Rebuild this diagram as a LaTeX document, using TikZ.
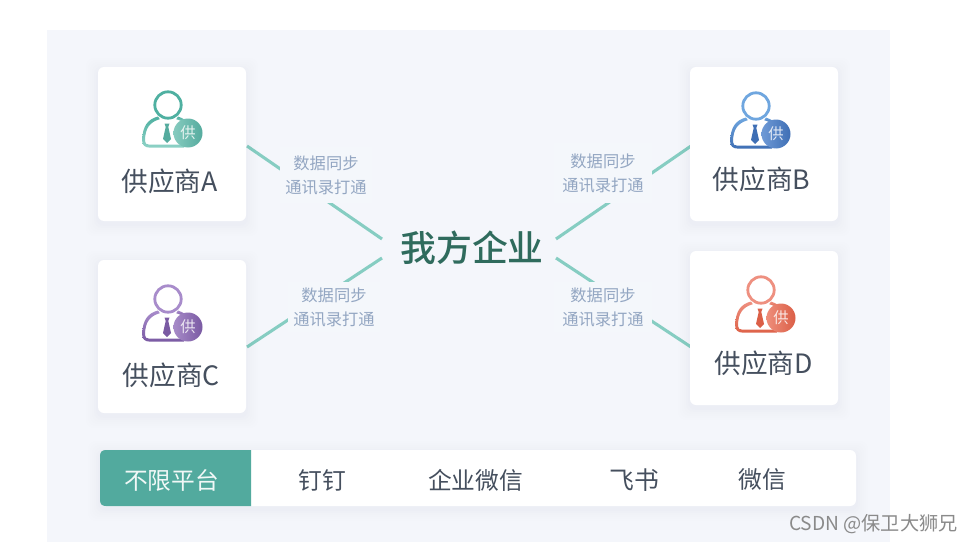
\documentclass[tikz,border=0pt]{standalone}
\usepackage{fontspec}
\setmainfont{Noto Sans CJK SC}
\newfontfamily\cjkmed{Noto Sans CJK SC Medium}
\usetikzlibrary{calc}
\definecolor{pagebg}{HTML}{F4F6FB}
\definecolor{labelbg}{HTML}{F4F7FB}
\definecolor{linkcol}{HTML}{86CDC2}
\definecolor{inkcol}{HTML}{454F5E}
\definecolor{labelcol}{HTML}{93A6C2}
\definecolor{hubcol}{HTML}{2F6B5D}
\definecolor{tealcol}{HTML}{52AA9E}
\definecolor{wmcol}{HTML}{8A8A8A}
\definecolor{shadowcol}{HTML}{7A88A5}
\definecolor{gA}{HTML}{4FB0A1}\definecolor{gAl}{HTML}{8ED2C6}
\definecolor{bA}{HTML}{55AB9E}\definecolor{bAl}{HTML}{86CBBF}
\definecolor{gB}{HTML}{6FA6DF}\definecolor{gBl}{HTML}{3F6FB5}
\definecolor{bB}{HTML}{3F6FB5}\definecolor{bBl}{HTML}{6F9AD6}
\definecolor{gC}{HTML}{A88CCB}\definecolor{gCl}{HTML}{7A5AA3}
\definecolor{bC}{HTML}{7A5AA3}\definecolor{bCl}{HTML}{A78BC8}
\definecolor{gD}{HTML}{EE9080}\definecolor{gDl}{HTML}{DE6249}
\definecolor{bD}{HTML}{DB5F47}\definecolor{bDl}{HTML}{EE8E7B}
\tikzset{
  x=0.75pt,y=-0.75pt,
  cardbox/.style={draw=none,fill=white,rounded corners=4.5pt,minimum width=111pt,inner sep=0pt},
  cardtext/.style={font=\fontsize{20pt}{24pt}\selectfont,text=inkcol,inner sep=0pt},
  linkline/.style={draw=linkcol,line width=2.3pt},
  linklabel/.style={fill=labelbg,text=labelcol,font=\fontsize{12.2pt}{18pt}\selectfont,align=center,inner sep=0pt},
  hubtext/.style={font=\cjkmed\fontsize{26.9pt}{30pt}\selectfont,text=hubcol,inner sep=0pt},
  bartext/.style={font=\fontsize{17.8pt}{22pt}\selectfont,text=inkcol,inner sep=0pt},
  iconline/.style={line width=2.1pt,line join=round,line cap=round},
}
% soft shadow behind a box given by its corners
\newcommand{\softshadow}[4]{%
  \foreach \g/\o in {12/0.006,10/0.007,8/0.008,6/0.009,4/0.011,2/0.013}{%
    \fill[shadowcol,opacity=\o,rounded corners=6pt]
      (#1-\g,#2-\g+3) rectangle (#3+\g,#4+\g+3);}}
% supplier icon: head centre x,y, name, line colours, badge colours
\newcommand{\suppliericon}[7]{%
  \begin{scope}[shift={(#1,#2)}]
    \draw[iconline,draw=#4] (0,0) circle (13.2);
    \shade[top color=#4,bottom color=#5]
      (-10,11.5) .. controls (-20,14) and (-25.8,21) .. (-25.8,36)
      .. controls (-25.8,40) and (-23,42.5) .. (-19,42.5)
      -- (16,42.5) -- (16,39.6) -- (-19,39.6)
      .. controls (-21.5,39.6) and (-23,38.4) .. (-23,36)
      .. controls (-23,23) and (-18,17) .. (-8.2,14.2) -- cycle;
    \shade[top color=#4,bottom color=#5]
      (10,11.5) .. controls (13,12.5) and (15,13.5) .. (18,15.5) -- (16,17.5)
      .. controls (13.5,16) and (11,15) .. (8.2,14.2) -- cycle;
    \fill[#6] (-3.5,18.5) -- (1.5,18.5) -- (0.3,22) -- (3,34) -- (-1,38) -- (-5,34) -- (-2.3,22) -- cycle;
    \shade[left color=#7,right color=#6] (20,28) circle (14.5);
    \node[name=badge#3,text=white!85!#6,font=\fontsize{11.5pt}{12pt}\selectfont,inner sep=0pt] at (20,28) {供};
  \end{scope}}
\begin{document}
\begin{tikzpicture}
\useasboundingbox (0,0) rectangle (974,542);
\fill[white] (0,0) rectangle (974,542);
\fill[pagebg] (47,30) rectangle (890,542);

% connector ends
\coordinate (endA) at (247,146);
\coordinate (endB) at (691,146);
\coordinate (endC) at (247,347);
\coordinate (endD) at (691,347);
\coordinate (hubA) at (382,239);
\coordinate (hubB) at (556,239);
\coordinate (hubC) at (382,258);
\coordinate (hubD) at (556,258);

\draw[linkline] (endA) -- (hubA);
\draw[linkline] (endB) -- (hubB);
\draw[linkline] (endC) -- (hubC);
\draw[linkline] (endD) -- (hubD);

\node[linklabel,minimum width=69pt,minimum height=42pt] (labA) at (326,175) {数据同步\\通讯录打通};
\node[linklabel,minimum width=73pt,minimum height=45pt] (labB) at (603,173) {数据同步\\通讯录打通};
\node[linklabel,minimum width=69pt,minimum height=38pt] (labC) at (334,307) {数据同步\\通讯录打通};
\node[linklabel,minimum width=73pt,minimum height=38pt] (labD) at (603,307) {数据同步\\通讯录打通};

\node[hubtext] (hub) at (472,248) {我方企业};

% cards
\softshadow{98}{67}{246}{221}
\softshadow{690}{67}{838}{221}
\softshadow{98}{260}{246}{413}
\softshadow{690}{251}{838}{405}
\node[cardbox,minimum height=115.5pt] (cardA) at (172,144) {};
\node[cardbox,minimum height=115.5pt] (cardB) at (764,144) {};
\node[cardbox,minimum height=114.75pt] (cardC) at (172,336.5) {};
\node[cardbox,minimum height=115.5pt] (cardD) at (764,328) {};

\suppliericon{168}{105}{A}{gA}{gAl}{bA}{bAl}
\suppliericon{756}{106}{B}{gB}{gBl}{bB}{bBl}
\suppliericon{168}{299}{C}{gC}{gCl}{bC}{bCl}
\suppliericon{761}{290}{D}{gD}{gDl}{bD}{bDl}

\node[cardtext] (nameA) at (169.5,181) {供应商A};
\node[cardtext] (nameB) at (761.5,179) {供应商B};
\node[cardtext] (nameC) at (171.5,375) {供应商C};
\node[cardtext] (nameD) at (763.5,363) {供应商D};

% platform bar
\softshadow{100}{450}{856}{506}
\fill[white,rounded corners=4.5pt] (100,450) rectangle (856,506);
\fill[tealcol] (251,450) -- (106,450) .. controls (102,450) and (100,452) .. (100,456)
  -- (100,500) .. controls (100,504) and (102,506) .. (106,506) -- (251,506) -- cycle;
\node[bartext,text=white!92!tealcol] (p0) at (171.5,480) {不限平台};
\node[bartext] (p1) at (322,480) {钉钉};
\node[bartext] (p2) at (475.5,480) {企业微信};
\node[bartext,font=\fontsize{18.6pt}{22pt}\selectfont] (p3) at (634,480) {飞书};
\node[bartext] (p4) at (762,480) {微信};

% watermark
\node[anchor=east,text=wmcol,font=\fontsize{14.4pt}{16pt}\selectfont,inner sep=0pt] (mark) at (958,524) {CSDN @保卫大狮兄};
\end{tikzpicture}
\end{document}
